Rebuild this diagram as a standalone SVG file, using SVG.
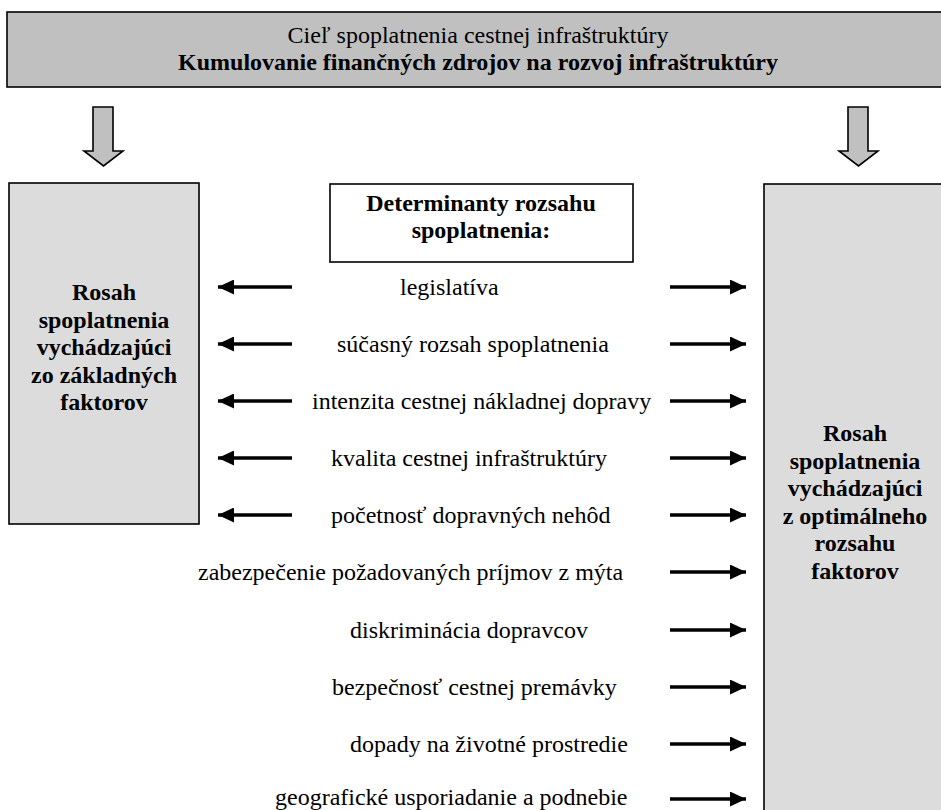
<svg xmlns="http://www.w3.org/2000/svg" width="941" height="810" viewBox="0 0 941 810">
<style>
  .t { font-family: "Liberation Serif", "Times New Roman", serif; font-size: 24px; fill: #000; }
  .b { font-weight: bold; }
  .mid { text-anchor: middle; }
  .box { stroke: #000; stroke-width: 1.6; }
  .dark { fill: #c0c0c0; }
  .light { fill: #dcdcdc; }
  .white { fill: #ffffff; }
  .conn { stroke: #000; stroke-width: 3.4; fill: none; }
</style>
<defs>
  <marker id="ah" markerUnits="userSpaceOnUse" markerWidth="17" markerHeight="15" refX="16" refY="7.5" orient="auto">
    <path d="M0,0 L16,7.5 L0,15 Z" fill="#000"/>
  </marker>
</defs>
<rect width="941" height="810" fill="#fff"/>

<g id="goal">
  <rect class="box dark" x="7" y="12" width="940" height="75"/>
  <text class="t mid" x="478" y="43">Cieľ spoplatnenia cestnej infraštruktúry</text>
  <text class="t b mid" x="478" y="70">Kumulovanie finančných zdrojov na rozvoj infraštruktúry</text>
</g>

<g id="down-left">
  <path class="box dark" d="M93,107 H113 V151 H123 L103.5,166 L84,151 H93 Z"/>
</g>
<g id="down-right">
  <path class="box dark" d="M848,107 H868 V151 H878 L858.5,166 L839,151 H848 Z"/>
</g>

<g id="left-box">
  <rect class="box light" x="9" y="183" width="190" height="341"/>
  <text class="t b mid" x="104" y="300">Rosah</text>
  <text class="t b mid" x="104" y="327.5">spoplatnenia</text>
  <text class="t b mid" x="104" y="355">vychádzajúci</text>
  <text class="t b mid" x="104" y="382.5">zo základných</text>
  <text class="t b mid" x="104" y="410">faktorov</text>
</g>

<g id="right-box">
  <rect class="box light" x="764" y="184" width="190" height="640"/>
  <text class="t b mid" x="855" y="441">Rosah</text>
  <text class="t b mid" x="855" y="468.5">spoplatnenia</text>
  <text class="t b mid" x="855" y="496">vychádzajúci</text>
  <text class="t b mid" x="855" y="523.5">z optimálneho</text>
  <text class="t b mid" x="855" y="551">rozsahu</text>
  <text class="t b mid" x="855" y="578.5">faktorov</text>
</g>

<g id="determinants">
  <rect class="box white" x="330" y="184" width="303" height="78"/>
  <text class="t b mid" x="481" y="211">Determinanty rozsahu</text>
  <text class="t b mid" x="481" y="238">spoplatnenia:</text>
</g>

<g id="factors">
  <text class="t" x="400" y="295">legislatíva</text>
  <text class="t" x="337" y="352">súčasný rozsah spoplatnenia</text>
  <text class="t" x="312" y="409">intenzita cestnej nákladnej dopravy</text>
  <text class="t" x="331" y="466">kvalita cestnej infraštruktúry</text>
  <text class="t" x="331" y="523">početnosť dopravných nehôd</text>
  <text class="t" x="198" y="580">zabezpečenie požadovaných príjmov z mýta</text>
  <text class="t" x="350" y="638">diskriminácia dopravcov</text>
  <text class="t" x="332" y="695">bezpečnosť cestnej premávky</text>
  <text class="t" x="350" y="752">dopady na životné prostredie</text>
  <text class="t" x="275" y="805">geografické usporiadanie a podnebie</text>
</g>

<g id="connectors">
  <line class="conn" x1="292" y1="287" x2="218" y2="287" marker-end="url(#ah)"/>
  <line class="conn" x1="292" y1="344" x2="218" y2="344" marker-end="url(#ah)"/>
  <line class="conn" x1="292" y1="401" x2="218" y2="401" marker-end="url(#ah)"/>
  <line class="conn" x1="292" y1="458" x2="218" y2="458" marker-end="url(#ah)"/>
  <line class="conn" x1="292" y1="515" x2="218" y2="515" marker-end="url(#ah)"/>

  <line class="conn" x1="670" y1="287" x2="746" y2="287" marker-end="url(#ah)"/>
  <line class="conn" x1="670" y1="344" x2="746" y2="344" marker-end="url(#ah)"/>
  <line class="conn" x1="670" y1="401" x2="746" y2="401" marker-end="url(#ah)"/>
  <line class="conn" x1="670" y1="458" x2="746" y2="458" marker-end="url(#ah)"/>
  <line class="conn" x1="670" y1="515" x2="746" y2="515" marker-end="url(#ah)"/>
  <line class="conn" x1="670" y1="572" x2="746" y2="572" marker-end="url(#ah)"/>
  <line class="conn" x1="670" y1="630" x2="746" y2="630" marker-end="url(#ah)"/>
  <line class="conn" x1="670" y1="687" x2="746" y2="687" marker-end="url(#ah)"/>
  <line class="conn" x1="670" y1="744" x2="746" y2="744" marker-end="url(#ah)"/>
  <line class="conn" x1="670" y1="799" x2="746" y2="799" marker-end="url(#ah)"/>
</g>
</svg>
